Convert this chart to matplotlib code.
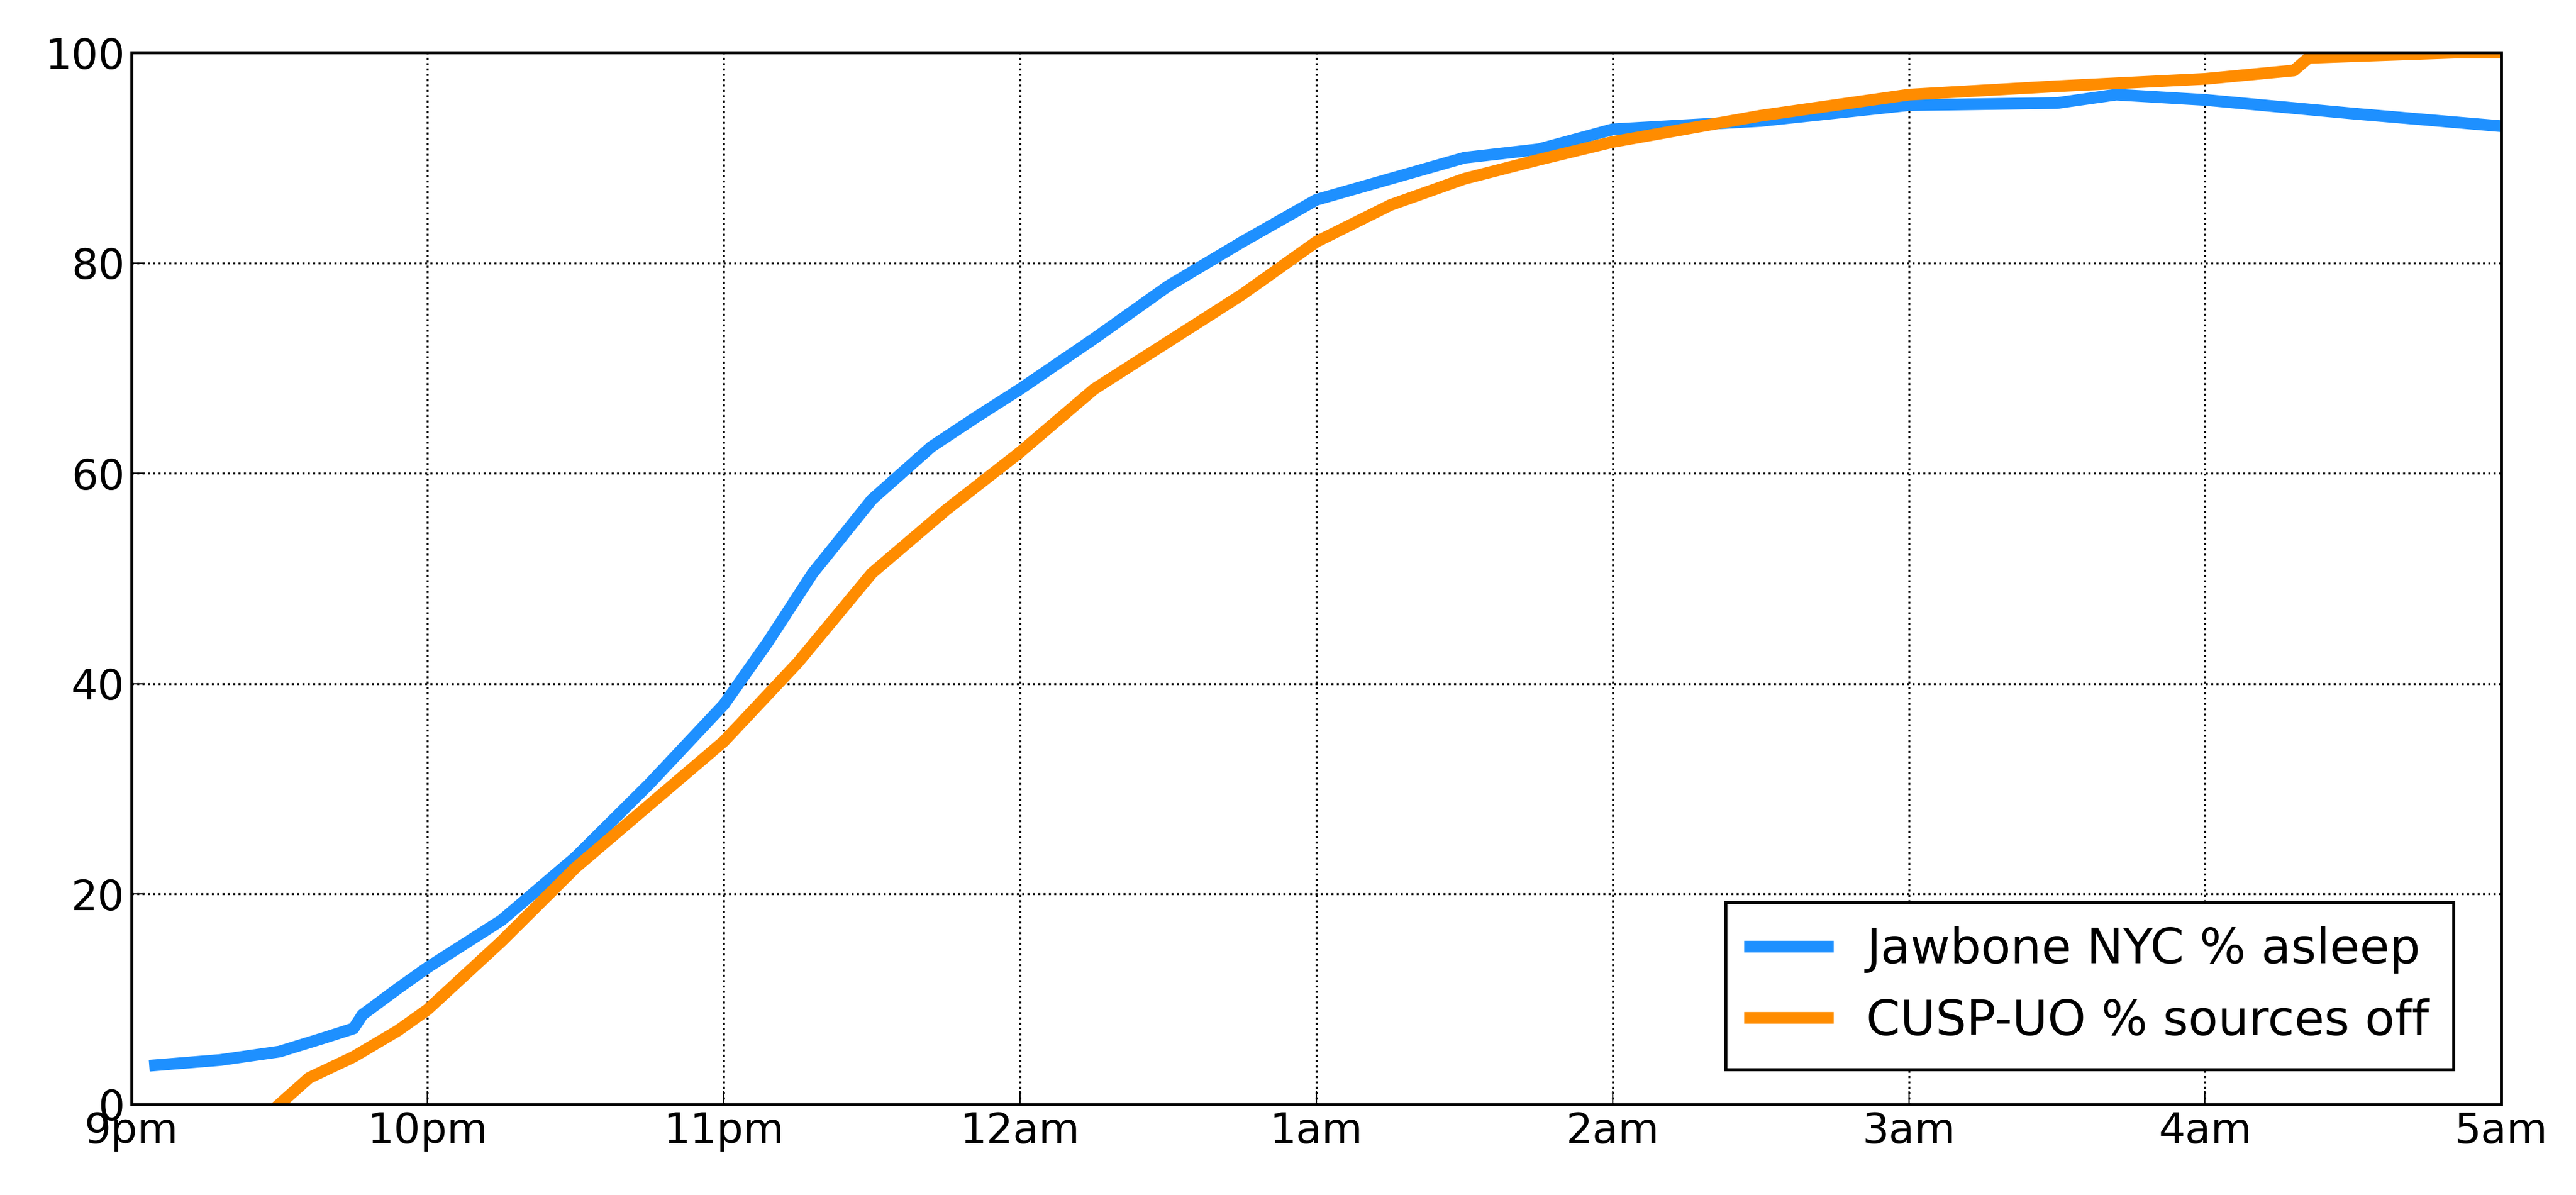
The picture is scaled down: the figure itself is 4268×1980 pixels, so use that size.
import matplotlib
matplotlib.use('Agg')
import matplotlib.pyplot as plt

# hours after 9pm
blue_x = [0.08, 0.3, 0.5, 0.65, 0.75, 0.78, 0.9, 1.0, 1.25, 1.5, 1.75, 2.0, 2.15, 2.3, 2.5, 2.7, 2.85, 3.0, 3.25,
          3.5, 3.75, 4.0, 4.25, 4.5, 4.75, 5.0, 5.5, 6.0, 6.5, 6.7, 7.0, 7.5, 8.0]
blue_y = [3.7, 4.2, 5.0, 6.3, 7.2, 8.5, 11.0, 13.0, 17.5, 23.5, 30.5, 38.0, 44.0, 50.5, 57.5, 62.5, 65.3, 68.0, 72.8,
          77.8, 82.0, 86.0, 88.0, 90.0, 90.8, 92.7, 93.5, 95.0, 95.2, 96.0, 95.5, 94.2, 93.0]
orange_x = [0.5, 0.6, 0.75, 0.9, 1.0, 1.25, 1.5, 1.75, 2.0, 2.25, 2.5, 2.75, 3.0, 3.25, 3.5, 3.75, 4.0,
            4.25, 4.5, 4.75, 5.0, 5.5, 6.0, 6.5, 7.0, 7.3, 7.35, 7.85, 8.0]
orange_y = [0.0, 2.5, 4.5, 7.0, 9.0, 15.5, 22.5, 28.5, 34.5, 42.0, 50.5, 56.5, 62.0, 68.0, 72.5, 77.0, 82.0,
            85.5, 88.0, 89.8, 91.5, 94.0, 96.0, 96.8, 97.5, 98.3, 99.5, 100.0, 100.0]
tick_labels = ['9pm', '10pm', '11pm', '12am', '1am', '2am', '3am', '4am', '5am']

fig = plt.figure(figsize=(21.34, 9.9), dpi=200)
ax = fig.add_axes([0.051, 0.076, 0.92, 0.88])
ax.plot(blue_x, blue_y, color='#1e90ff', lw=7, label='Jawbone NYC % asleep')
ax.plot(orange_x, orange_y, color='#ff8c00', lw=7, label='CUSP-UO % sources off')
ax.set_xlim(0, 8)
ax.set_ylim(0, 100)
ax.set_xticks(range(9))
ax.set_xticklabels(tick_labels)
ax.set_yticks(range(0, 101, 20))
ax.tick_params(labelsize=25, direction='in', length=8, pad=4)
ax.grid(True, color='black', linestyle=':', linewidth=1.2)
for s in ax.spines.values():
    s.set_linewidth(1.8)
leg = ax.legend(loc='lower right', fontsize=29, fancybox=False, framealpha=1, edgecolor='black',
                handlelength=1.6, borderpad=0.5, bbox_to_anchor=(0.99, 0.01))
leg.get_frame().set_linewidth(1.8)
fig.savefig('out.png')
